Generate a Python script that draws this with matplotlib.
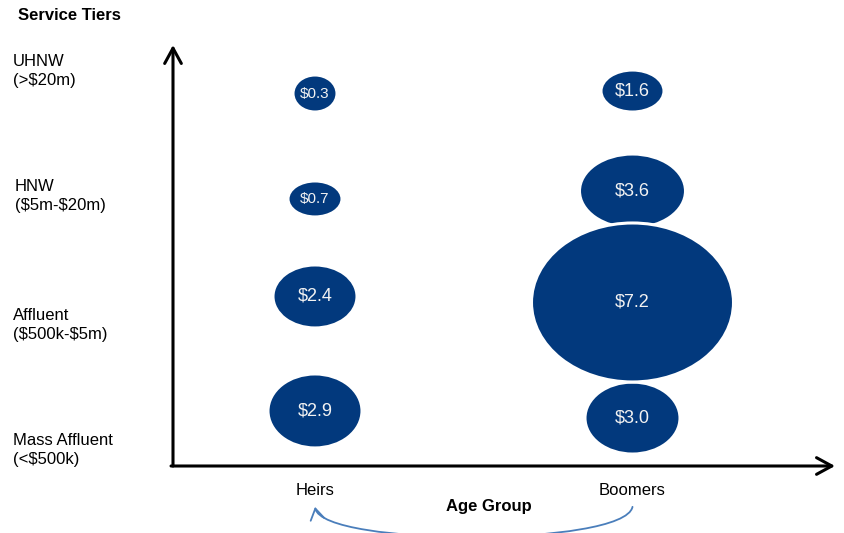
import matplotlib
matplotlib.use('Agg')
import matplotlib.pyplot as plt
import matplotlib.transforms as transforms
from matplotlib.patches import Ellipse, FancyArrowPatch
from matplotlib.path import Path

plt.rcParams['font.family'] = ['Liberation Sans', 'DejaVu Sans']
plt.rcParams['text.parse_math'] = False

W, H = 845, 533

age_groups = ['Heirs', 'Boomers']
tiers = ['Mass Affluent', 'Affluent', 'HNW', 'UHNW']
tier_labels = ['Mass Affluent\n(<$500k)', 'Affluent\n($500k-$5m)',
               'HNW\n($5m-$20m)', 'UHNW\n(>$20m)']
heirs = [2.9, 2.4, 0.7, 0.3]
boomers = [3.0, 7.2, 3.6, 1.6]

# ellipse size of each bubble in pixels (width, height)
heirs_size = [(94, 74), (84, 63), (54, 36), (44, 37)]
boomers_size = [(95, 72), (202, 159), (106, 74), (63, 42)]
# small vertical shifts, in rows
heirs_nudge = [0.033, 0.098, 0.005, -0.014]
boomers_nudge = [-0.033, 0.042, 0.079, 0.009]

# where the tier text blocks sit (pixels from the left / top)
tier_text_x = [13, 13, 15, 13]
tier_text_y = [450, 325, 196, 71]

NAVY = '#02397D'
LINK = '#4A7EBB'

fig = plt.figure(figsize=(W / 100, H / 100), dpi=100)
ax = fig.add_axes([173 / W, (H - 466) / H, (835 - 173) / W, (466 - 45) / H])

px_x = 317.5   # pixels per category step
px_y = 107.5   # pixels per tier row
ax.set_xlim(-142 / px_x, 520 / px_x)
ax.set_ylim(-51.5 / px_y, 369.5 / px_y)

series = [(heirs, heirs_size, heirs_nudge), (boomers, boomers_size, boomers_nudge)]
for xi, (vals, sizes, nudges) in enumerate(series):
    for yi, (v, (w, h), dy) in enumerate(zip(vals, sizes, nudges)):
        y = yi + dy
        e = Ellipse((xi, y), w / px_x, h / px_y, facecolor=NAVY,
                    edgecolor='white', lw=2.2, zorder=2 + v)
        ax.add_patch(e)
        fs = 11 if v < 1 else 13
        ax.text(xi, y, f'${v:.1f}', color='#F2F2F2', fontsize=fs,
                ha='center', va='center', zorder=20)

for s in ax.spines.values():
    s.set_visible(False)
ax.set_yticks([])
ax.set_xticks(range(len(age_groups)), age_groups)
ax.tick_params(axis='x', length=0, pad=12.5, labelsize=12)

# axis arrows
arrow = dict(arrowstyle='->,head_length=0.55,head_width=0.3', lw=2.2,
             color='black', shrinkA=0, shrinkB=0, mutation_scale=20)
ax.annotate('', xy=(0, 1), xytext=(0, 0), xycoords='axes fraction', arrowprops=arrow)
ax.annotate('', xy=(1, 0), xytext=(-0.003, 0), xycoords='axes fraction', arrowprops=arrow)

ax.text(0.477, -0.097, 'Age Group', transform=ax.transAxes, fontsize=12,
        fontweight='bold', ha='center', va='center')

# curved link from Boomers back to Heirs (x in categories, y in axes fraction)
link_tr = transforms.blended_transform_factory(ax.transData, ax.transAxes)
y0, y1 = -0.097, -0.192
link = Path([(1, y0), (0.975, y1), (0.025, y1), (0, y0)],
            [Path.MOVETO, Path.CURVE4, Path.CURVE4, Path.CURVE4])
ax.add_patch(FancyArrowPatch(path=link, transform=link_tr,
                             arrowstyle='->,head_length=0.4,head_width=0.25',
                             color=LINK, lw=1.3, mutation_scale=20,
                             clip_on=False))

fig.text(18 / W, 1 - 16 / H, 'Service Tiers', fontsize=12, fontweight='bold',
         ha='left', va='center')
for lab, tx, ty in zip(tier_labels, tier_text_x, tier_text_y):
    fig.text(tx / W, 1 - ty / H, lab, fontsize=12, ha='left', va='center',
             linespacing=1.4)

fig.savefig('out.png', dpi=100)
